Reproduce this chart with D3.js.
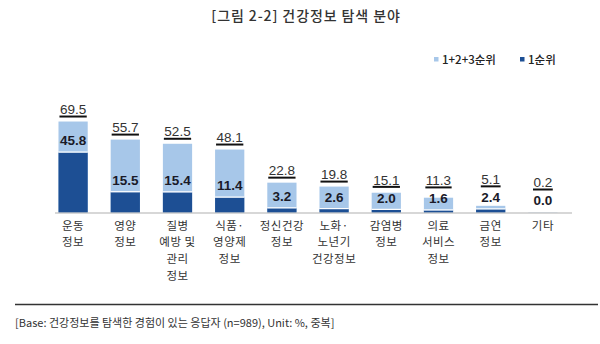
<!DOCTYPE html>
<html><head><meta charset="utf-8">
<script src="https://cdn.jsdelivr.net/npm/d3@7/dist/d3.min.js"></script>
<style>body{margin:0;background:#fff}svg{display:block}</style>
</head><body>
<svg id="c" width="600" height="344"></svg>
<script>
const categories = [
  ["운동","정보"],
  ["영양","정보"],
  ["질병","예방 및","관리","정보"],
  ["식품·","영양제","정보"],
  ["정신건강","정보"],
  ["노화·","노년기","건강정보"],
  ["감염병","정보"],
  ["의료","서비스","정보"],
  ["금연","정보"],
  ["기타"]
];
const total123 = [69.5, 55.7, 52.5, 48.1, 22.8, 19.8, 15.1, 11.3, 5.1, 0.2];
const first1   = [45.8, 15.5, 15.4, 11.4, 3.2, 2.6, 2.0, 1.6, 2.4, 0.0];
const seriesNames = ["1+2+3순위", "1순위"];
const title = "[그림 2-2] 건강정보 탐색 분야";
const footnote = "[Base: 건강정보를 탐색한 경험이 있는 응답자 (n=989), Unit: %, 중복]";

const LIGHT = "#a7c7e9", DARK = "#1d4f94";
const KR = "'Noto Sans CJK KR', 'Noto Sans', sans-serif";
const NUM = "'Liberation Sans', Arial, sans-serif";

const svg = d3.select("#c");
const keys = categories.map((c, i) => i);
const x = d3.scaleBand().domain(keys).range([47, 569]).paddingInner(0.44).paddingOuter(0.22);
const y = d3.scaleLinear().domain([0, 100]).range([212.5, 81.6]);

// title
svg.append("text").attr("x", 306).attr("y", 20.5).attr("text-anchor", "middle")
  .attr("font-family", KR).attr("font-size", 14).attr("font-weight", 500).attr("fill", "#333")
  .attr("letter-spacing", 0.9)
  .text(title);

// legend
const lg = svg.append("g");
[[434, LIGHT, seriesNames[0]], [520, DARK, seriesNames[1]]].forEach(([lx, col, t]) => {
  lg.append("rect").attr("x", lx).attr("y", 57).attr("width", 4.5).attr("height", 4.5).attr("fill", col);
  lg.append("text").attr("x", lx + 8).attr("y", 64).attr("font-family", KR).attr("font-size", 11.5)
    .attr("font-weight", 500).attr("fill", "#222").text(t);
});

// bars
const g = svg.append("g");
keys.forEach(i => {
  const bx = x(i), bw = x.bandwidth();
  g.append("rect").attr("x", bx).attr("y", y(total123[i])).attr("width", bw)
    .attr("height", y(0) - y(total123[i])).attr("fill", LIGHT);
  if (first1[i] > 0) {
    g.append("rect").attr("x", bx).attr("y", y(first1[i])).attr("width", bw)
      .attr("height", y(0) - y(first1[i])).attr("fill", DARK);
    g.append("line").attr("x1", bx).attr("x2", bx + bw).attr("y1", y(first1[i]) - 0.5).attr("y2", y(first1[i]) - 0.5)
      .attr("stroke", "#fff").attr("stroke-width", 1.2);
  }
});

// axis baseline
svg.append("line").attr("x1", 55).attr("x2", 572).attr("y1", y(0) + 0.5).attr("y2", y(0) + 0.5)
  .attr("stroke", "#b0b0b0").attr("stroke-width", 1.2);

// value labels
keys.forEach(i => {
  const cx = x(i) + x.bandwidth() / 2;
  const innerC = y(first1[i]) - 12;
  const totC = Math.min(y(total123[i]) - 12, innerC - 18);
  svg.append("text").attr("x", cx).attr("y", innerC + 4.7).attr("text-anchor", "middle")
    .attr("font-family", NUM).attr("font-size", 13.5).attr("font-weight", "bold").attr("fill", "#1a1a28")
    .text(first1[i].toFixed(1));
  const t = svg.append("text").attr("x", cx).attr("y", totC + 4.7).attr("text-anchor", "middle")
    .attr("font-family", NUM).attr("font-size", 13.5).attr("fill", "#333")
    .text(total123[i].toFixed(1));
  const w = t.node().getComputedTextLength();
  svg.append("line").attr("x1", cx - w / 2 - 0.5).attr("x2", cx + w / 2 + 0.5)
    .attr("y1", totC + 7).attr("y2", totC + 7).attr("stroke", "#111").attr("stroke-width", 2);
});

// category labels
keys.forEach(i => {
  const cx = x(i) + x.bandwidth() / 2;
  categories[i].forEach((line, k) => {
    svg.append("text").attr("x", cx).attr("y", 229.5 + k * 16.7).attr("text-anchor", "middle")
      .attr("font-family", KR).attr("font-size", 11.5).attr("letter-spacing", 0.5)
      .attr("fill", "#333").text(line);
  });
});

// footnote
svg.append("line").attr("x1", 15).attr("x2", 598).attr("y1", 304.5).attr("y2", 304.5)
  .attr("stroke", "#333").attr("stroke-width", 1.5);
svg.append("text").attr("x", 15).attr("y", 327).attr("font-family", KR).attr("font-size", 11)
  .attr("fill", "#333").text(footnote);
</script>
</body></html>
